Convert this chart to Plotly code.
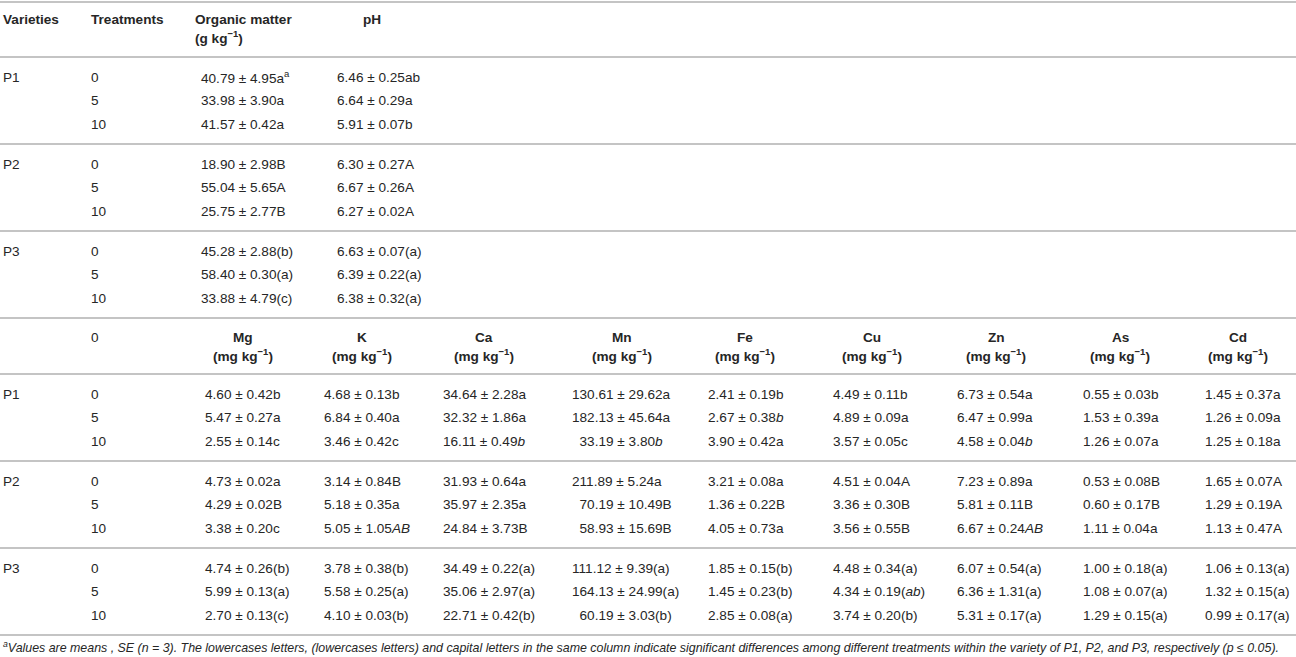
import plotly.graph_objects as go

# soil properties table, P1/P2/P3 at 0, 5, 10 treatments
varieties = ["P1", "P2", "P3"]
treatments = ["0", "5", "10"]

organic_matter = ["40.79 ± 4.95a<sup>a</sup>", "33.98 ± 3.90a", "41.57 ± 0.42a",
                  "18.90 ± 2.98B", "55.04 ± 5.65A", "25.75 ± 2.77B",
                  "45.28 ± 2.88(b)", "58.40 ± 0.30(a)", "33.88 ± 4.79(c)"]
ph = ["6.46 ± 0.25ab", "6.64 ± 0.29a", "5.91 ± 0.07b",
      "6.30 ± 0.27A", "6.67 ± 0.26A", "6.27 ± 0.02A",
      "6.63 ± 0.07(a)", "6.39 ± 0.22(a)", "6.38 ± 0.32(a)"]

mg = ["4.60 ± 0.42b", "5.47 ± 0.27a", "2.55 ± 0.14c",
      "4.73 ± 0.02a", "4.29 ± 0.02B", "3.38 ± 0.20c",
      "4.74 ± 0.26(b)", "5.99 ± 0.13(a)", "2.70 ± 0.13(c)"]
k = ["4.68 ± 0.13b", "6.84 ± 0.40a", "3.46 ± 0.42c",
     "3.14 ± 0.84B", "5.18 ± 0.35a", "5.05 ± 1.05<i>AB</i>",
     "3.78 ± 0.38(b)", "5.58 ± 0.25(a)", "4.10 ± 0.03(b)"]
ca = ["34.64 ± 2.28a", "32.32 ± 1.86a", "16.11 ± 0.49<i>b</i>",
      "31.93 ± 0.64a", "35.97 ± 2.35a", "24.84 ± 3.73B",
      "34.49 ± 0.22(a)", "35.06 ± 2.97(a)", "22.71 ± 0.42(b)"]
mn = ["130.61 ± 29.62a", "182.13 ± 45.64a", "33.19 ± 3.80<i>b</i>",
      "211.89 ± 5.24a", "70.19 ± 10.49B", "58.93 ± 15.69B",
      "111.12 ± 9.39(a)", "164.13 ± 24.99(a)", "60.19 ± 3.03(b)"]
fe = ["2.41 ± 0.19b", "2.67 ± 0.38<i>b</i>", "3.90 ± 0.42a",
      "3.21 ± 0.08a", "1.36 ± 0.22B", "4.05 ± 0.73a",
      "1.85 ± 0.15(b)", "1.45 ± 0.23(b)", "2.85 ± 0.08(a)"]
cu = ["4.49 ± 0.11b", "4.89 ± 0.09a", "3.57 ± 0.05c",
      "4.51 ± 0.04A", "3.36 ± 0.30B", "3.56 ± 0.55B",
      "4.48 ± 0.34(a)", "4.34 ± 0.19(<i>ab</i>)", "3.74 ± 0.20(b)"]
zn = ["6.73 ± 0.54a", "6.47 ± 0.99a", "4.58 ± 0.04<i>b</i>",
      "7.23 ± 0.89a", "5.81 ± 0.11B", "6.67 ± 0.24<i>AB</i>",
      "6.07 ± 0.54(a)", "6.36 ± 1.31(a)", "5.31 ± 0.17(a)"]
as_ = ["0.55 ± 0.03b", "1.53 ± 0.39a", "1.26 ± 0.07a",
       "0.53 ± 0.08B", "0.60 ± 0.17B", "1.11 ± 0.04a",
       "1.00 ± 0.18(a)", "1.08 ± 0.07(a)", "1.29 ± 0.15(a)"]
cd = ["1.45 ± 0.37a", "1.26 ± 0.09a", "1.25 ± 0.18a",
      "1.65 ± 0.07A", "1.29 ± 0.19A", "1.13 ± 0.47A",
      "1.06 ± 0.13(a)", "1.32 ± 0.15(a)", "0.99 ± 0.17(a)"]

elements = ["Mg", "K", "Ca", "Mn", "Fe", "Cu", "Zn", "As", "Cd"]
unit = "(mg kg<sup>−1</sup>)"

footnote = ("<sup>a</sup>Values are means , SE (n = 3). The lowercases letters, (lowercases letters) "
            "and capital letters in the same column indicate significant differences among different "
            "treatments within the variety of P1, P2, and P3, respectively (p ≤ 0.05).")

W, H = 1296, 657
FONT = "Liberation Sans, Arial, Helvetica, sans-serif"
TXT = "#262626"
RULE = "#c4c4c4"
FS = 13.6

# layout (pixels)
col_var, col_trt = 3, 91
om_head, om_val = 195, 201
ph_head, ph_val = 363, 337
el_val = [205, 324, 443, 572, 708, 833, 957, 1083, 1205]
el_head = [243, 362, 484, 622, 745, 872, 996, 1120, 1238]
block_h = 87
row_off = [20, 43.5, 67]

fig = go.Figure()
annots = []
shapes = []


def txt(x, y, s, anchor="left", size=FS, color=TXT):
    annots.append(dict(x=x, y=y, xref="x", yref="y", text=s, showarrow=False,
                       xanchor=anchor, yanchor="middle", borderpad=0, borderwidth=0,
                       font=dict(family=FONT, size=size, color=color)))


def rule(y):
    shapes.append(dict(type="line", xref="x", yref="y", x0=0, x1=W, y0=y, y1=y,
                       line=dict(color=RULE, width=2)))


# pad Mn means so the column lines up on the number
mn_w = max(len(v.split(" ± ")[0]) for v in mn)
mn_txt = ["\u2007" * (mn_w - len(v.split(" ± ")[0])) + v for v in mn]

# ---- first section
rule(2)
txt(col_var, 19, "<b>Varieties</b>")
txt(col_trt, 19, "<b>Treatments</b>")
txt(om_head, 19, "<b>Organic matter</b>")
txt(om_head, 37, "<b>(g kg<sup>−1</sup>)</b>")
txt(ph_head, 19, "<b>pH</b>")
top1 = 57
rule(top1)
for b, v in enumerate(varieties):
    y0 = top1 + b * block_h
    for r, t in enumerate(treatments):
        i = b * 3 + r
        y = y0 + row_off[r]
        if r == 0:
            txt(col_var, y, v)
        txt(col_trt, y, t)
        txt(om_val, y, organic_matter[i])
        txt(ph_val, y, ph[i])
    rule(y0 + block_h)

# ---- second section
sec2 = top1 + 3 * block_h
txt(col_trt, sec2 + 19, "0")
for j, e in enumerate(elements):
    txt(el_head[j], sec2 + 19, "<b>" + e + "</b>", anchor="center")
    txt(el_head[j], sec2 + 37, "<b>" + unit + "</b>", anchor="center")
top2 = sec2 + 56
rule(top2)
cols = [mg, k, ca, mn_txt, fe, cu, zn, as_, cd]
for b, v in enumerate(varieties):
    y0 = top2 + b * block_h
    for r, t in enumerate(treatments):
        i = b * 3 + r
        y = y0 + row_off[r]
        if r == 0:
            txt(col_var, y, v)
        txt(col_trt, y, t)
        for j, c in enumerate(cols):
            txt(el_val[j], y, c[i])
    rule(y0 + block_h)

txt(3, top2 + 3 * block_h + 12, "<i>" + footnote + "</i>", size=12.4)

fig.update_layout(
    width=W, height=H,
    margin=dict(l=0, r=0, t=0, b=0),
    paper_bgcolor="white", plot_bgcolor="white",
    xaxis=dict(range=[0, W], visible=False, fixedrange=True),
    yaxis=dict(range=[H, 0], visible=False, fixedrange=True),
    annotations=annots, shapes=shapes,
    showlegend=False,
)

# page body has a default margin, drop it so the table sits at the window corner
fig.write_html("out.html", config={"displayModeBar": False},
               post_script="document.body.style.margin='0';document.body.style.overflow='hidden';")
